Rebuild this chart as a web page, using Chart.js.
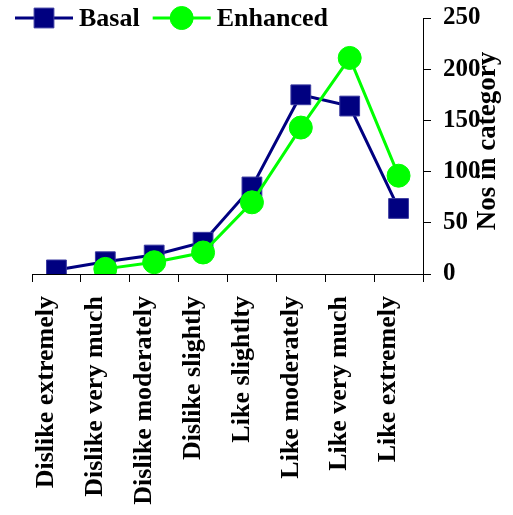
<!DOCTYPE html>
<html>
<head>
<meta charset="utf-8">
<script src="https://cdn.jsdelivr.net/npm/chart.js@4/dist/chart.umd.min.js"></script>
<style>
  html, body { margin: 0; padding: 0; background: #fff; }
  #wrap { width: 513px; height: 515px; }
</style>
</head>
<body>
<div id="wrap"><canvas id="c" width="513" height="515"></canvas></div>
<script>
const categories = [
  'Dislike extremely', 'Dislike very much', 'Dislike moderately', 'Dislike slightly',
  'Like slightlty', 'Like moderately', 'Like very much', 'Like extremely'
];
const basal = [4, 12, 18.5, 31, 85, 175, 164, 64];
const enhanced = [null, 5, 11.5, 21, 70, 143, 211, 96];
const yTicks = [0, 50, 100, 150, 200, 250];
const yTitle = 'Nos in category';

const FONT = '"Liberation Serif", "Times New Roman", serif';

// Legend and right-hand axis title, drawn on top of the chart
const overlay = {
  id: 'overlay',
  afterDraw(chart) {
    const ctx = chart.ctx;
    ctx.save();
    ctx.font = 'bold 26px ' + FONT;
    ctx.textBaseline = 'middle';
    ctx.textAlign = 'left';
    let x = 15;
    const y = 18;
    chart.data.datasets.forEach(ds => {
      ctx.strokeStyle = ds.borderColor;
      ctx.lineWidth = ds.borderWidth;
      ctx.beginPath();
      ctx.moveTo(x, y);
      ctx.lineTo(x + 58, y);
      ctx.stroke();
      ctx.fillStyle = ds.pointBackgroundColor;
      ctx.strokeStyle = ds.pointBorderColor;
      ctx.lineWidth = 1;
      Chart.helpers.drawPoint(ctx, { pointStyle: ds.pointStyle, radius: ds.pointRadius, borderWidth: 1, rotation: 0 }, x + 29, y);
      ctx.fillStyle = '#000';
      ctx.fillText(ds.label, x + 64, y + 1);
      x += 64 + ctx.measureText(ds.label).width + 13;
    });

    const area = chart.chartArea;
    ctx.font = 'bold 27px ' + FONT;
    ctx.textAlign = 'center';
    ctx.translate(488, (area.top + area.bottom) / 2 - 5);
    ctx.rotate(-Math.PI / 2);
    ctx.fillText(yTitle, 0, 0);
    ctx.restore();
  }
};

new Chart(document.getElementById('c'), {
  type: 'line',
  data: {
    labels: categories,
    datasets: [
      {
        label: 'Basal',
        data: basal,
        borderColor: '#000080',
        backgroundColor: '#000080',
        pointBackgroundColor: '#000080',
        pointBorderColor: '#3a3aa0',
        borderWidth: 3,
        pointStyle: 'rect',
        pointRadius: 14,
        pointBorderWidth: 1,
        tension: 0,
        order: 1
      },
      {
        label: 'Enhanced',
        data: enhanced,
        borderColor: '#00ff00',
        backgroundColor: '#00ff00',
        pointBackgroundColor: '#00ff00',
        pointBorderColor: '#00ff00',
        borderWidth: 3,
        pointStyle: 'circle',
        pointRadius: 11.5,
        pointBorderWidth: 1,
        tension: 0,
        order: 0
      }
    ]
  },
  options: {
    responsive: false,
    animation: false,
    devicePixelRatio: 1,
    layout: { padding: { top: 18, left: 32, right: 0, bottom: 0 } },
    plugins: {
      legend: { display: false },
      tooltip: { enabled: false }
    },
    scales: {
      x: {
        type: 'category',
        offset: true,
        grid: { drawOnChartArea: false, drawTicks: true, tickLength: 8, color: '#000', offset: true },
        border: { display: true, color: '#000', width: 1 },
        ticks: {
          autoSkip: false,
          minRotation: 90,
          maxRotation: 90,
          padding: 14,
          labelOffset: -10,
          color: '#000',
          font: { family: FONT, size: 26, weight: 'bold' }
        },
        afterFit(scale) {
          scale.height = 241;
          scale.paddingLeft = 0;
          scale.paddingRight = 0;
        }
      },
      y: {
        position: 'right',
        min: 0,
        max: 250,
        afterBuildTicks(scale) {
          scale.ticks = yTicks.map(v => ({ value: v }));
        },
        grid: { drawOnChartArea: false, drawTicks: true, tickLength: 8, color: '#000' },
        border: { display: true, color: '#000', width: 1 },
        ticks: {
          padding: 12,
          color: '#000',
          font: { family: FONT, size: 25, weight: 'bold' }
        },
        afterFit(scale) {
          scale.width = 90;
          scale.paddingTop = 0;
          scale.paddingBottom = 0;
        }
      }
    }
  },
  plugins: [overlay]
});
</script>
</body>
</html>
